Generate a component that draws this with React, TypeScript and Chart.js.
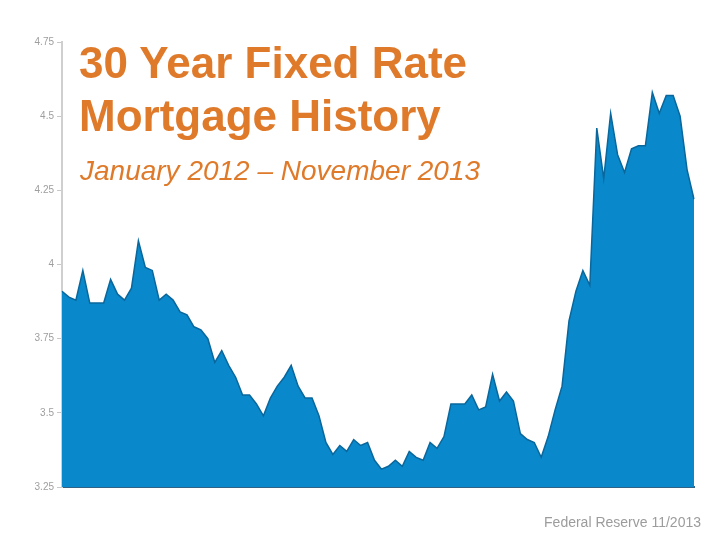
import React, { useEffect, useRef } from "react";
import { Chart, registerables } from "chart.js";

Chart.register(...registerables);

const weeks: string[] = [
  "2012-01-05", "2012-01-12", "2012-01-19", "2012-01-26",
  "2012-02-02", "2012-02-09", "2012-02-16", "2012-02-23",
  "2012-03-01", "2012-03-08", "2012-03-15", "2012-03-22", "2012-03-29",
  "2012-04-05", "2012-04-12", "2012-04-19", "2012-04-26",
  "2012-05-03", "2012-05-10", "2012-05-17", "2012-05-24", "2012-05-31",
  "2012-06-07", "2012-06-14", "2012-06-21", "2012-06-28",
  "2012-07-05", "2012-07-12", "2012-07-19", "2012-07-26",
  "2012-08-02", "2012-08-09", "2012-08-16", "2012-08-23", "2012-08-30",
  "2012-09-06", "2012-09-13", "2012-09-20", "2012-09-27",
  "2012-10-04", "2012-10-11", "2012-10-18", "2012-10-25",
  "2012-11-01", "2012-11-08", "2012-11-15", "2012-11-22", "2012-11-29",
  "2012-12-06", "2012-12-13", "2012-12-20", "2012-12-27",
  "2013-01-03", "2013-01-10", "2013-01-17", "2013-01-24", "2013-01-31",
  "2013-02-07", "2013-02-14", "2013-02-21", "2013-02-28",
  "2013-03-07", "2013-03-14", "2013-03-21", "2013-03-28",
  "2013-04-04", "2013-04-11", "2013-04-18", "2013-04-25",
  "2013-05-02", "2013-05-09", "2013-05-16", "2013-05-23", "2013-05-30",
  "2013-06-06", "2013-06-13", "2013-06-20", "2013-06-27",
  "2013-07-04", "2013-07-11", "2013-07-18", "2013-07-25",
  "2013-08-01", "2013-08-08", "2013-08-15", "2013-08-22", "2013-08-29",
  "2013-09-05", "2013-09-12", "2013-09-19", "2013-09-26",
  "2013-10-03",
];

const rates: number[] = [
  3.91, 3.89, 3.88, 3.98,
  3.87, 3.87, 3.87, 3.95,
  3.9, 3.88, 3.92, 4.08, 3.99,
  3.98, 3.88, 3.9, 3.88,
  3.84, 3.83, 3.79, 3.78, 3.75,
  3.67, 3.71, 3.66, 3.62,
  3.56, 3.56, 3.53, 3.49,
  3.55, 3.59, 3.62, 3.66, 3.59,
  3.55, 3.55, 3.49, 3.4,
  3.36, 3.39, 3.37, 3.41,
  3.39, 3.4, 3.34, 3.31, 3.32,
  3.34, 3.32, 3.37, 3.35,
  3.34, 3.4, 3.38, 3.42, 3.53,
  3.53, 3.53, 3.56, 3.51,
  3.52, 3.63, 3.54, 3.57,
  3.54, 3.43, 3.41, 3.4,
  3.35, 3.42, 3.51, 3.59, 3.81,
  3.91, 3.98, 3.93, 4.46,
  4.29, 4.51, 4.37, 4.31,
  4.39, 4.4, 4.4, 4.58, 4.51,
  4.57, 4.57, 4.5, 4.32,
  4.22,
];

const yTicks: number[] = [3.25, 3.5, 3.75, 4, 4.25, 4.5, 4.75];
const yTickLabels: string[] = ["3.25", "3.5", "3.75", "4", "4.25", "4.5", "4.75"];

const titleLines: string[] = ["30 Year Fixed Rate", "Mortgage History"];
const subtitle = "January 2012 – November 2013";
const source = "Federal Reserve 11/2013";

const ORANGE = "#DF7A2A";

export default function App() {
  const canvasRef = useRef<HTMLCanvasElement | null>(null);

  useEffect(() => {
    const canvas = canvasRef.current;
    if (!canvas) return;
    const chart = new Chart(canvas, {
      type: "line",
      data: {
        labels: weeks,
        datasets: [
          {
            data: rates,
            fill: "start",
            backgroundColor: "#0988CB",
            borderColor: "#0A679C",
            borderWidth: 1.5,
            pointRadius: 0,
            pointHoverRadius: 0,
            tension: 0,
          },
        ],
      },
      options: {
        responsive: false,
        animation: false,
        devicePixelRatio: 1,
        layout: { padding: { left: 0, right: 26, top: 42, bottom: 0 } },
        plugins: {
          legend: { display: false },
          tooltip: { enabled: false },
          title: { display: false },
        },
        scales: {
          x: {
            type: "category",
            offset: false,
            grid: { display: false },
            ticks: { display: false },
            border: { display: true, color: "#2E6286", width: 2 },
            afterFit: (scale: any) => {
              scale.height = 53;
            },
          },
          y: {
            min: 3.25,
            max: 4.75,
            afterBuildTicks: (scale: any) => {
              scale.ticks = yTicks.map((v) => ({ value: v }));
            },
            ticks: {
              color: "#9E9E9E",
              font: { family: "'Liberation Sans', Arial, sans-serif", size: 10 },
              padding: 3,
              callback: (value: any) => {
                const i = yTicks.indexOf(Number(value));
                return i >= 0 ? yTickLabels[i] : "";
              },
            },
            grid: {
              drawOnChartArea: false,
              drawTicks: true,
              tickLength: 5,
              color: "#C8C8C8",
            },
            border: { display: true, color: "#CFCFCF", width: 2 },
            afterFit: (scale: any) => {
              scale.width = 62;
            },
          },
        },
      },
    });
    return () => chart.destroy();
  }, []);

  return (
    <div
      style={{
        position: "fixed",
        left: 0,
        top: 0,
        width: 720,
        height: 540,
        background: "#ffffff",
        overflow: "hidden",
      }}
    >
      <canvas
        ref={canvasRef}
        width={720}
        height={540}
        style={{ position: "absolute", left: 0, top: 0, width: 720, height: 540 }}
      />
      <div
        style={{
          position: "absolute",
          left: 79,
          top: 36,
          fontFamily: "'Liberation Sans', Arial, sans-serif",
          fontWeight: "bold",
          fontSize: 44,
          lineHeight: "53px",
          color: ORANGE,
          whiteSpace: "nowrap",
        }}
      >
        {titleLines.map((t) => (
          <div key={t}>{t}</div>
        ))}
      </div>
      <div
        style={{
          position: "absolute",
          left: 80,
          top: 157,
          fontFamily: "'Liberation Sans', Arial, sans-serif",
          fontStyle: "italic",
          fontSize: 28,
          lineHeight: "28px",
          color: ORANGE,
          whiteSpace: "nowrap",
        }}
      >
        {subtitle}
      </div>
      <div
        style={{
          position: "absolute",
          right: 19,
          top: 515,
          fontFamily: "'Liberation Sans', Arial, sans-serif",
          fontSize: 14,
          lineHeight: "14px",
          color: "#9C9C9C",
          whiteSpace: "nowrap",
        }}
      >
        {source}
      </div>
    </div>
  );
}
